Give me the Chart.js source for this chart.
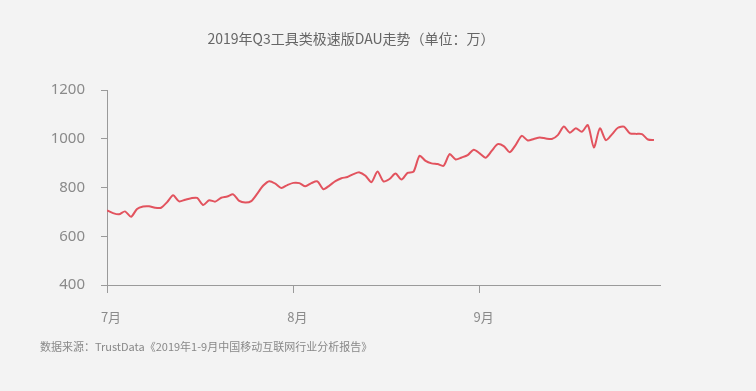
<!DOCTYPE html>
<html>
<head>
<meta charset="utf-8">
<script src="https://cdn.jsdelivr.net/npm/chart.js@4/dist/chart.umd.min.js"></script>
<style>
  html, body { margin: 0; padding: 0; overflow: hidden; }
  body { background: #f3f3f3; font-family: "Noto Sans CJK SC", "Noto Sans", sans-serif; }
  #wrap { position: relative; width: 756px; height: 391px; }
  #title { position: absolute; left: 0; top: 29px; width: 702px; text-align: center;
           font-size: 14px; line-height: 18px; color: #666; }
  #source { position: absolute; left: 40px; top: 339px; font-size: 11px; line-height: 14px; color: #888; }
  canvas { position: absolute; left: 0; top: 0; }
</style>
</head>
<body>
<div id="wrap">
  <canvas id="dau-chart" width="756" height="391"></canvas>
  <div id="title">2019年Q3工具类极速版DAU走势（单位：万）</div>
  <div id="source">数据来源：TrustData《2019年1-9月中国移动互联网行业分析报告》</div>
</div>
<script>
// 月份刻度 (从7月1日起的天数)
const monthLabels = ['7月', '8月', '9月'];
const monthStarts = [0, 31, 62];
const yTicks = [400, 600, 800, 1000, 1200];

// 每日DAU (万), 7月1日 - 9月30日
const dau = [
  706, 695, 690, 702, 680, 712, 722, 723, 717, 717,
  740, 768, 743, 750, 756, 757, 728, 748, 742, 758,
  763, 772, 745, 738, 744, 775, 808, 826, 816, 798,
  810, 819, 818, 805, 818, 825, 793, 808, 826, 838,
  843, 855, 862, 848, 822, 866, 825, 835, 857, 833,
  860, 865, 930, 909, 899, 896, 889, 937, 915, 923,
  933, 955, 940, 922, 950, 978, 970, 945, 975, 1012,
  993, 999, 1005, 1001, 999, 1015, 1050, 1025, 1043, 1029,
  1056, 964, 1043, 994, 1018, 1045, 1050, 1022, 1020, 1019,
  997, 995
];

const axisColor = '#9a9a9a';
const tickColor = '#8a8a8a';

var ctx = document.getElementById('dau-chart').getContext('2d');
const dauChart = new Chart(ctx, {
  type: 'line',
  data: {
    datasets: [{
      label: 'DAU',
      data: dau.map((v, i) => ({ x: i, y: v })),
      borderColor: '#e2535e',
      borderWidth: 2,
      pointRadius: 0,
      tension: 0.25,
      fill: false
    }]
  },
  options: {
    responsive: false,
    animation: false,
    layout: { padding: { left: 0, right: 96, top: 90, bottom: 66 } },
    plugins: { legend: { display: false }, tooltip: { enabled: false } },
    scales: {
      x: {
        type: 'linear',
        min: 0,
        max: 92,
        afterBuildTicks: function(scale) {
          scale.ticks = monthStarts.map(v => ({ value: v }));
        },
        afterFit: function(scale) { scale.height = 40; },
        border: { display: true, color: axisColor, width: 1 },
        grid: { drawOnChartArea: false, drawTicks: true, tickLength: 8, color: axisColor },
        ticks: {
          autoSkip: false,
          maxRotation: 0,
          padding: 16,
          labelOffset: 4,
          color: tickColor,
          font: { family: '"Noto Sans CJK SC", sans-serif', size: 13 },
          callback: function(v) {
            const k = monthStarts.indexOf(v);
            return k >= 0 ? monthLabels[k] : null;
          }
        }
      },
      y: {
        min: 400,
        max: 1200,
        afterBuildTicks: function(scale) {
          scale.ticks = yTicks.map(v => ({ value: v }));
        },
        afterFit: function(scale) { scale.width = 107; },
        border: { display: true, color: axisColor, width: 1 },
        grid: { drawOnChartArea: false, drawTicks: true, tickLength: 6, color: axisColor },
        ticks: {
          padding: 16,
          color: tickColor,
          font: { family: '"Noto Sans", sans-serif', size: 15 },
          callback: function(v) { return String(v); }
        }
      }
    }
  }
});
</script>
</body>
</html>
